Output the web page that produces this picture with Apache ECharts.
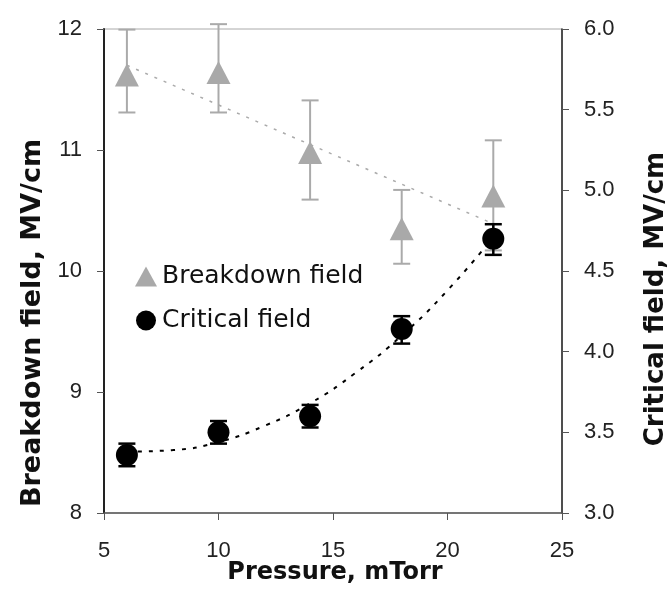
<!DOCTYPE html>
<html>
<head>
<meta charset="utf-8">
<script src="https://cdn.jsdelivr.net/npm/echarts@6/dist/echarts.min.js"></script>
<style>html,body{margin:0;padding:0;background:#fff}#c{width:667px;height:596px}</style>
</head>
<body>
<div id="c"></div>
<script>
// Data
const pressure = [6, 10, 14, 18, 22];
const breakdown = [11.62, 11.64, 10.98, 10.35, 10.62];
const breakdownLow = [11.31, 11.31, 10.59, 10.06, 10.17];
const breakdownHigh = [11.995, 12.04, 11.41, 10.67, 11.08];
const critical = [3.36, 3.50, 3.60, 4.14, 4.70];
const criticalLow = [3.29, 3.43, 3.53, 4.05, 4.60];
const criticalHigh = [3.43, 3.57, 3.67, 4.22, 4.79];
const breakdownTrendX = [6, 22];
const breakdownTrendY = [11.70, 10.39];
const criticalTrendX = [6, 8, 10, 12, 14, 16, 18, 20, 22];
const criticalTrendY = [3.38, 3.39, 3.44, 3.54, 3.68, 3.87, 4.10, 4.38, 4.71];
const xTicks = [5, 10, 15, 20, 25];
const leftTicks = [8, 9, 10, 11, 12];
const rightTicks = ['3.0', '3.5', '4.0', '4.5', '5.0', '5.5', '6.0'];
const seriesNames = ['Breakdown field', 'Critical field'];
const axisTitles = { x: 'Pressure, mTorr', left: 'Breakdown field, MV/cm', right: 'Critical field, MV/cm' };

const zip = (a, b) => a.map((v, i) => [v, b[i]]);
const zip3 = (a, b, c) => a.map((v, i) => [v, b[i], c[i]]);

function errRender(color, lw, half) {
  return function (params, api) {
    const x = api.value(0), lo = api.value(1), hi = api.value(2);
    const pHi = api.coord([x, hi]);
    const pLo = api.coord([x, lo]);
    const st = { stroke: color, lineWidth: lw };
    return {
      type: 'group',
      children: [
        { type: 'line', shape: { x1: pHi[0], y1: pHi[1], x2: pLo[0], y2: pLo[1] }, style: st },
        { type: 'line', shape: { x1: pHi[0] - half, y1: pHi[1], x2: pHi[0] + half, y2: pHi[1] }, style: st },
        { type: 'line', shape: { x1: pLo[0] - half, y1: pLo[1], x2: pLo[0] + half, y2: pLo[1] }, style: st }
      ]
    };
  };
}

const font = '"Liberation Sans", Arial, sans-serif';
const wide = '"DejaVu Sans", sans-serif';
const chart = echarts.init(document.getElementById('c'), null, { renderer: 'canvas' });
chart.setOption({
  animation: false,
  backgroundColor: '#fff',
  textStyle: { fontFamily: font },
  grid: { left: 104, right: 105, top: 29, bottom: 83, show: true, borderColor: '#aaa', borderWidth: 1 },
  legend: {
    data: seriesNames,
    orient: 'vertical',
    left: 130,
    top: 259,
    itemGap: 19,
    itemWidth: 22,
    itemHeight: 20,
    textStyle: { fontSize: 25, color: '#111', fontFamily: wide }
  },
  graphic: [
    { type: 'text', x: 335, y: 573, style: { text: axisTitles.x, font: 'bold 24px "DejaVu Sans", sans-serif', fill: '#111', align: 'center', verticalAlign: 'middle' } },
    { type: 'text', x: 33, y: 323, rotation: Math.PI / 2, style: { text: axisTitles.left, font: 'bold 27px "DejaVu Sans", sans-serif', fill: '#111', align: 'center', verticalAlign: 'middle' } },
    { type: 'text', x: 656, y: 299, rotation: Math.PI / 2, style: { text: axisTitles.right, font: 'bold 26px "DejaVu Sans", sans-serif', fill: '#111', align: 'center', verticalAlign: 'middle' } }
  ],
  xAxis: {
    type: 'value', min: xTicks[0], max: xTicks[xTicks.length - 1], interval: 5,
    axisLine: { show: true, lineStyle: { color: '#555', width: 1.5 } },
    axisTick: { show: true, length: 7, lineStyle: { color: '#555' } },
    axisLabel: { fontSize: 22, color: '#222', margin: 27 },
    splitLine: { show: false }
  },
  yAxis: [{
    type: 'value', min: leftTicks[0], max: leftTicks[leftTicks.length - 1], interval: 1,
    axisLine: { show: true, lineStyle: { color: '#222', width: 2 } },
    axisTick: { show: true, length: 7, lineStyle: { color: '#555' } },
    axisLabel: { fontSize: 22, color: '#222', margin: 22 },
    splitLine: { show: false }
  }, {
    type: 'value', min: 3, max: 6, interval: 0.5, position: 'right',
    axisLine: { show: true, lineStyle: { color: '#222', width: 1.5 } },
    axisTick: { show: true, length: 7, lineStyle: { color: '#555' } },
    axisLabel: { fontSize: 22, color: '#222', margin: 22, formatter: v => rightTicks[Math.round((v - 3) / 0.5)] },
    splitLine: { show: false }
  }],
  series: [
    {
      name: 'bdTrend', type: 'line', yAxisIndex: 0, data: zip(breakdownTrendX, breakdownTrendY),
      symbol: 'none', lineStyle: { color: '#aaa', width: 1.5, type: [3, 7] }, z: 1, silent: true
    },
    {
      name: 'crTrend', type: 'line', yAxisIndex: 1, data: zip(criticalTrendX, criticalTrendY),
      smooth: true, symbol: 'none', lineStyle: { color: '#000', width: 2, type: [4, 7] }, z: 1, silent: true
    },
    {
      name: 'bdErr', type: 'custom', yAxisIndex: 0, data: zip3(pressure, breakdownLow, breakdownHigh),
      renderItem: errRender('#aaa', 2, 8.5), z: 2, silent: true
    },
    {
      name: seriesNames[0], type: 'scatter', yAxisIndex: 0, data: zip(pressure, breakdown),
      symbol: 'triangle', symbolSize: [24, 23], itemStyle: { color: '#a9a9a9', opacity: 1 }, z: 3
    },
    {
      name: 'crErr', type: 'custom', yAxisIndex: 1, data: zip3(pressure, criticalLow, criticalHigh),
      renderItem: errRender('#000', 2.5, 8.5), z: 4, silent: true
    },
    {
      name: seriesNames[1], type: 'scatter', yAxisIndex: 1, data: zip(pressure, critical),
      symbol: 'circle', symbolSize: 22, itemStyle: { color: '#000', opacity: 1 }, z: 5
    }
  ]
});
</script>
</body>
</html>
